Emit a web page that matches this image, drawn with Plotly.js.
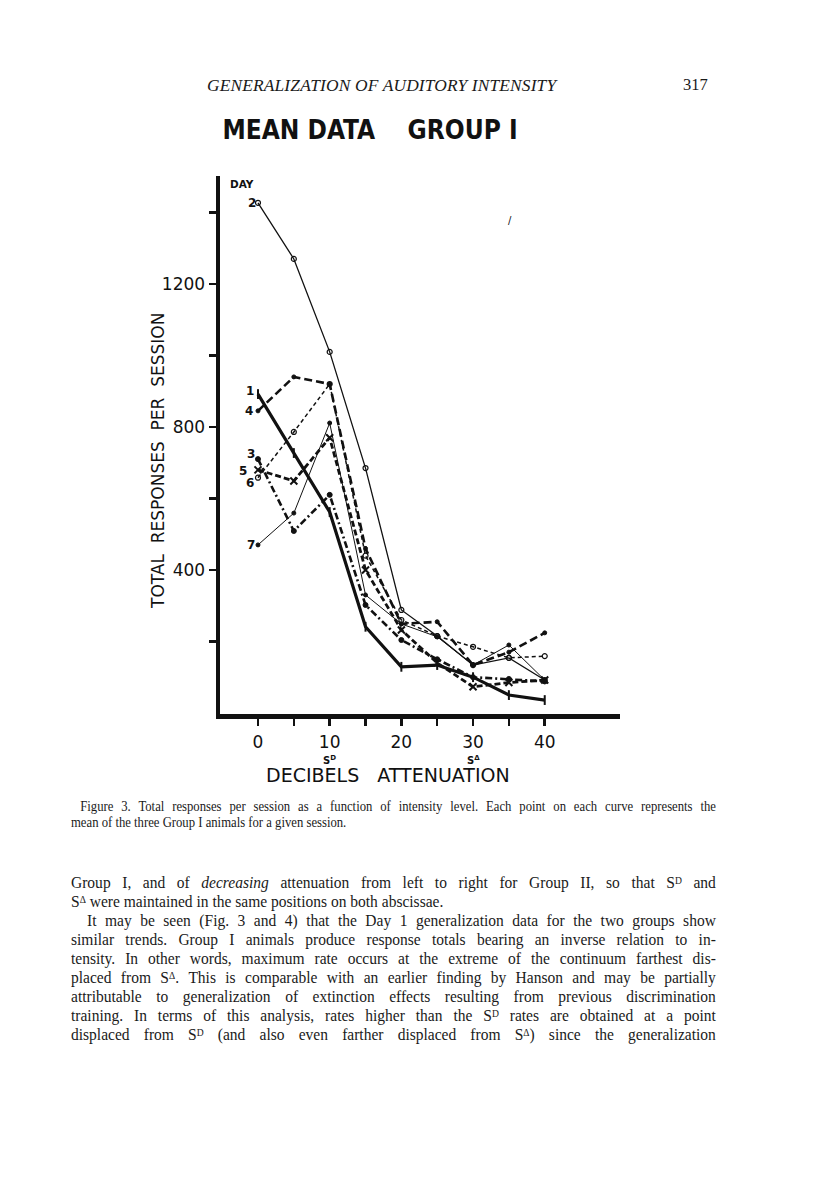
<!DOCTYPE html>
<html>
<head>
<meta charset="utf-8">
<script src="https://cdn.plot.ly/plotly-3.0.1.min.js"></script>
<style>
  html, body { margin:0; padding:0; background:#fff; }
  #page { position:relative; width:816px; height:1188px; overflow:hidden; background:#fff; }
  #chart { position:absolute; left:0; top:0; width:816px; height:1188px; }
  .txt { position:absolute; font-family:"Liberation Serif","DejaVu Serif",serif; color:#1a1a1a; white-space:nowrap; }
  .jl { text-align:justify; text-align-last:justify; white-space:normal; }
  .ll { text-align:left; }
  sup { font-size:0.62em; line-height:0; position:relative; top:-0.38em; vertical-align:baseline; }
  #body { transform:scaleX(0.94); transform-origin:0 0; }
  #body div { height:19.1px; line-height:19.1px; overflow:visible; }
  #caption { transform:scaleX(0.92); transform-origin:0 0; }
  #caption div { height:16px; line-height:16px; }
</style>
</head>
<body>
<div id="page">
  <div id="chart"></div>
  <div class="txt" style="left:207px; top:75px; font-size:17.4px; font-style:italic; letter-spacing:0.15px;">GENERALIZATION OF AUDITORY INTENSITY</div>
  <div class="txt" style="left:683px; top:75px; font-size:16.5px;">317</div>
  <div id="caption" class="txt" style="left:71px; top:799px; width:701px; font-size:13.8px; white-space:normal;">
    <div class="jl" style="padding-left:10px;">Figure 3. Total responses per session as a function of intensity level. Each point on each curve represents the</div>
    <div class="ll">mean of the three Group I animals for a given session.</div>
  </div>
  <div id="body" class="txt" style="left:71px; top:872.5px; width:686px; font-size:16.5px; white-space:normal;">
    <div class="jl">Group I, and of <i>decreasing</i> attenuation from left to right for Group II, so that S<sup>D</sup> and</div>
    <div class="ll">S<sup>Δ</sup> were maintained in the same positions on both abscissae.</div>
    <div class="jl" style="padding-left:17px;">It may be seen (Fig. 3 and 4) that the Day 1 generalization data for the two groups show</div>
    <div class="jl">similar trends. Group I animals produce response totals bearing an inverse relation to in-</div>
    <div class="jl">tensity. In other words, maximum rate occurs at the extreme of the continuum farthest dis-</div>
    <div class="jl">placed from S<sup>Δ</sup>. This is comparable with an earlier finding by Hanson and may be partially</div>
    <div class="jl">attributable to generalization of extinction effects resulting from previous discrimination</div>
    <div class="jl">training. In terms of this analysis, rates higher than the S<sup>D</sup> rates are obtained at a point</div>
    <div class="jl">displaced from S<sup>D</sup> (and also even farther displaced from S<sup>Δ</sup>) since the generalization</div>
  </div>
</div>
<script>
// ---- data ----
var attenuation = [0, 5, 10, 15, 20, 25, 30, 35, 40];
var day1 = [892, 727, 562, 241, 129, 134, 100, 50, 36];
var day2 = [1427, 1270, 1010, 685, 288, 215, 134, 154, 92];
var day3 = [710, 509, 610, 302, 204, 150, 100, 95, 88];
var day4 = [845, 940, 920, 460, 249, 255, 134, 170, 224];
var day5 = [680, 649, 770, 400, 232, 140, 73, 85, 92];
var day6 = [658, 786, 920, 440, 260, 215, 185, 154, 159];
var day7 = [470, 559, 811, 330, 249, 213, 134, 190, 92];
var dayLabels = ['1', '2', '3', '4', '5', '6', '7'];
var xTickVals = [0, 5, 10, 15, 20, 25, 30, 35, 40];
var xTickText = ['0', '', '10', '', '20', '', '30', '', '40'];
var yTickVals = [200, 400, 600, 800, 1000, 1200, 1400];
var yTickText = ['', '400', '', '800', '', '1200', ''];

var INK = '#111111';
var series = [day1, day2, day3, day4, day5, day6, day7];
var styles = [
  {w: 3.2, dash: 'solid', sym: 'line-ns-open', ms: 7, mw: 2},
  {w: 1.3, dash: 'solid', sym: 'circle-open', ms: 5, mw: 1.2},
  {w: 2.6, dash: '7px,3px,2px,3px', sym: 'circle', ms: 5, mw: 1},
  {w: 2.6, dash: '8px,4px', sym: 'circle', ms: 4, mw: 1},
  {w: 2.8, dash: '6px,3px', sym: 'x-thin-open', ms: 7, mw: 2},
  {w: 1.5, dash: '4px,3px', sym: 'circle-open', ms: 5, mw: 1.2},
  {w: 1.0, dash: 'solid', sym: 'circle', ms: 4, mw: 1}
];
var traces = series.map(function (ys, i) {
  var s = styles[i];
  return {
    x: attenuation, y: ys, type: 'scatter', mode: 'lines+markers',
    name: 'Day ' + dayLabels[i],
    line: {color: INK, width: s.w, dash: s.dash},
    marker: {symbol: s.sym, size: s.ms, color: INK, line: {color: INK, width: s.mw}},
    showlegend: false, hoverinfo: 'skip'
  };
});

// label offsets (pixels) for the day numbers at the start of each curve
var labelShift = [[-2, 3], [0, 0], [-1, 5], [-3, 0], [-9, -1], [-2, -5], [-1, 0]];
var annotations = series.map(function (ys, i) {
  return {x: attenuation[0], y: ys[0], xref: 'x', yref: 'y', text: '<b>' + dayLabels[i] + '</b>',
    showarrow: false, xanchor: 'right', yanchor: 'middle',
    xshift: labelShift[i][0], yshift: labelShift[i][1],
    font: {family: 'DejaVu Sans', size: 12, color: INK}};
});
annotations.push(
  {x: 0.055, y: 0.985, xref: 'paper', yref: 'paper', text: '<b>DAY</b>', showarrow: false,
   xanchor: 'center', yanchor: 'middle', font: {family: 'DejaVu Sans', size: 10.5, color: INK}},
  {x: 10, y: 0, xref: 'x', yref: 'paper', text: '<b>S<sup>D</sup></b>', showarrow: false,
   xanchor: 'center', yanchor: 'middle', yshift: -46, font: {family: 'DejaVu Sans', size: 10, color: INK}},
  {x: 30, y: 0, xref: 'x', yref: 'paper', text: '<b>S<sup>Δ</sup></b>', showarrow: false,
   xanchor: 'center', yanchor: 'middle', yshift: -46, font: {family: 'DejaVu Sans', size: 10, color: INK}},
  {x: (388 - 220) / 400, y: 0, xref: 'paper', yref: 'paper', text: 'DECIBELS\u00A0\u00A0\u00A0ATTENUATION',
   showarrow: false, xanchor: 'center', yanchor: 'middle', yshift: -61,
   font: {family: 'DejaVu Sans', size: 19, color: INK}},
  {x: 0, y: (714 - 461) / 538, xref: 'paper', yref: 'paper', text: 'TOTAL\u00A0\u00A0RESPONSES\u00A0\u00A0PER\u00A0\u00A0SESSION',
   showarrow: false, textangle: -90, xanchor: 'center', yanchor: 'middle', xshift: -62,
   font: {family: 'DejaVu Sans', size: 17, color: INK}},
  {x: 0.735, y: (714 - 213) / 538, xref: 'paper', yref: 'paper', text: '/', showarrow: false,
   font: {family: 'DejaVu Sans', size: 10, color: INK}}
);

var layout = {
  width: 816, height: 1188,
  margin: {l: 220, r: 196, t: 176, b: 474, autoexpand: false},
  paper_bgcolor: 'rgba(0,0,0,0)', plot_bgcolor: 'rgba(0,0,0,0)',
  title: {text: '<b>MEAN DATA\u00A0\u00A0\u00A0\u00A0GROUP I</b>', x: 370 / 816, xanchor: 'center',
          y: 1 - 130 / 1188, yanchor: 'middle', xref: 'container', yref: 'container',
          font: {family: 'DejaVu Sans Condensed, DejaVu Sans', size: 26, color: INK}},
  xaxis: {range: [-5.3, 50.5], showgrid: false, zeroline: false, showline: true,
          linecolor: INK, linewidth: 4.5, ticks: 'outside', ticklen: 7, tickwidth: 2.5, tickcolor: INK,
          tickmode: 'array', tickvals: xTickVals, ticktext: xTickText, ticklabelstandoff: 2,
          tickfont: {family: 'DejaVu Sans', size: 17, color: INK}, fixedrange: true},
  yaxis: {range: [-3, 1502], showgrid: false, zeroline: false, showline: true,
          linecolor: INK, linewidth: 4.5, ticks: 'outside', ticklen: 7, tickwidth: 2.5, tickcolor: INK,
          tickmode: 'array', tickvals: yTickVals, ticktext: yTickText, ticklabelstandoff: 0,
          tickfont: {family: 'DejaVu Sans', size: 17, color: INK}, fixedrange: true},
  annotations: annotations,
  showlegend: false
};
Plotly.newPlot('chart', traces, layout, {staticPlot: true, displayModeBar: false});
</script>
</body>
</html>
